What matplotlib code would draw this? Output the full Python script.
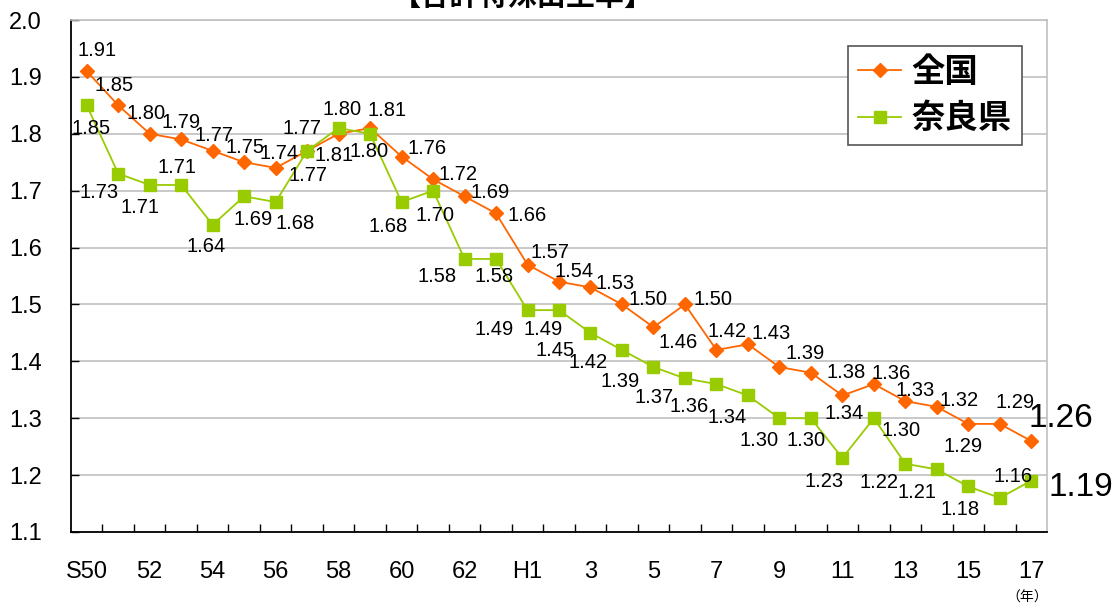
import matplotlib
matplotlib.use("Agg")
import matplotlib.pyplot as plt
from matplotlib.lines import Line2D
import numpy as np

# 年次 (S50 = 1975 ... H17 = 2005)
years = ["S50", "51", "52", "53", "54", "55", "56", "57", "58", "59", "60",
         "61", "62", "63", "H1", "2", "3", "4", "5", "6", "7", "8", "9",
         "10", "11", "12", "13", "14", "15", "16", "17"]

zenkoku = [1.91, 1.85, 1.80, 1.79, 1.77, 1.75, 1.74, 1.77, 1.80, 1.81, 1.76,
           1.72, 1.69, 1.66, 1.57, 1.54, 1.53, 1.50, 1.46, 1.50, 1.42, 1.43,
           1.39, 1.38, 1.34, 1.36, 1.33, 1.32, 1.29, 1.29, 1.26]

nara = [1.85, 1.73, 1.71, 1.71, 1.64, 1.69, 1.68, 1.77, 1.81, 1.80, 1.68,
        1.70, 1.58, 1.58, 1.49, 1.49, 1.45, 1.42, 1.39, 1.37, 1.36, 1.34,
        1.30, 1.30, 1.23, 1.30, 1.22, 1.21, 1.18, 1.16, 1.19]

# label offsets in pixels (dx, dy up)
off_zenkoku = [(10, 21), (-4, 20), (-4, 20), (0, 17), (1, 15), (1, 15), (3, 14),
               (-5, 22), (3, 24), (17, 18), (25, 8), (25, 5), (26, 4), (31, -2),
               (22, 12), (15, 10), (25, 4), (26, 5), (25, -15), (28, 5), (11, 18),
               (23, 11), (26, 14), (35, 0), (2, -18), (17, 11), (10, 11), (22, 6),
               (-5, -23), (15, 21), (30, 22)]
off_nara = [(4, -23), (-19, -19), (-10, -23), (-4, 17), (-7, -22), (9, -23), (19, -21),
            (1, -25), (-5, -27), (-1, -18), (-13, -24), (2, -25), (-27, -18), (-2, -18),
            (-33, -19), (-16, -19), (-35, -18), (-34, -13), (-33, -14), (-31, -19),
            (-27, -22), (-21, -22), (-20, -22), (-5, -22), (-18, -23), (27, -12),
            (-26, -19), (-20, -23), (-8, -23), (13, 21), (50, -7)]

orange = "#FF6600"
green = "#99CC00"
num_font = ["Liberation Sans", "DejaVu Sans"]
lab_font = ["Liberation Sans Narrow", "Liberation Sans", "DejaVu Sans"]
jp_font = ["Noto Sans CJK JP", "DejaVu Sans"]

fig = plt.figure(figsize=(11.13, 6.07), dpi=100)
ax = fig.add_axes([71 / 1113, 75 / 607, 976 / 1113, 512 / 607])

x = np.arange(len(years))
ax.plot(x, zenkoku, color=orange, lw=1.3, marker="D", ms=7, mec=orange, zorder=3)
ax.plot(x, nara, color=green, lw=1.3, marker="s", ms=8.5, mec=green, zorder=4)


def put_labels(vals, offs):
    for i, v in enumerate(vals):
        last = i == len(vals) - 1
        ax.annotate(f"{v:.2f}", (i, v), xytext=offs[i], textcoords="offset pixels",
                    ha="center", va="center", zorder=5, annotation_clip=False,
                    fontsize=24 if last else 14.5,
                    family=num_font if last else lab_font)


put_labels(zenkoku, off_zenkoku)
put_labels(nara, off_nara)

ax.set_xlim(-0.5, len(years) - 0.5)
ax.set_ylim(1.1, 2.0)
yt = np.arange(1.1, 2.05, 0.1)
ax.set_yticks(yt)
ax.set_yticklabels([f"{t:.1f}" for t in yt], family=num_font, fontsize=17)
ax.tick_params(axis="y", direction="in", length=6, width=1, pad=21)

ax.set_xticks(x[::2])
ax.set_xticklabels(years[::2], family=num_font, fontsize=17)
ax.set_xticks(np.arange(0.5, len(years) - 1, 1), minor=True)
ax.tick_params(axis="x", which="major", length=0, pad=21)
ax.tick_params(axis="x", which="minor", direction="in", length=6, width=1)

ax.grid(axis="y", color="#c0c0c0", lw=1.2)
ax.set_axisbelow(True)
for s in ["top", "right"]:
    ax.spines[s].set_color("#c0c0c0")
    ax.spines[s].set_linewidth(1.2)
for s in ["left", "bottom"]:
    ax.spines[s].set_color("black")
    ax.spines[s].set_linewidth(1.3)

handles = [Line2D([], [], color=orange, lw=1.3, marker="D", ms=7.5, mec=orange),
           Line2D([], [], color=green, lw=1.3, marker="s", ms=9, mec=green)]
leg = ax.legend(handles, ["全国", "奈良県"], loc="upper right", bbox_to_anchor=(0.974, 0.949),
                borderaxespad=0, prop={"family": jp_font, "weight": "bold", "size": 24},
                handlelength=1.3, handletextpad=0.3, labelspacing=0.4, borderpad=0.3,
                fancybox=False, framealpha=1)
leg.get_frame().set_edgecolor("#555555")
leg.get_frame().set_linewidth(1.2)

fig.text(523 / 1113, 1 - 5 / 607, "【合計特殊出生率】", ha="center", va="baseline",
         fontsize=21, weight="bold", family=jp_font)
fig.text(1027 / 1113, 9 / 607, "（年）", ha="center", va="center",
         fontsize=10, family=jp_font)

fig.savefig("out.png", dpi=100)
